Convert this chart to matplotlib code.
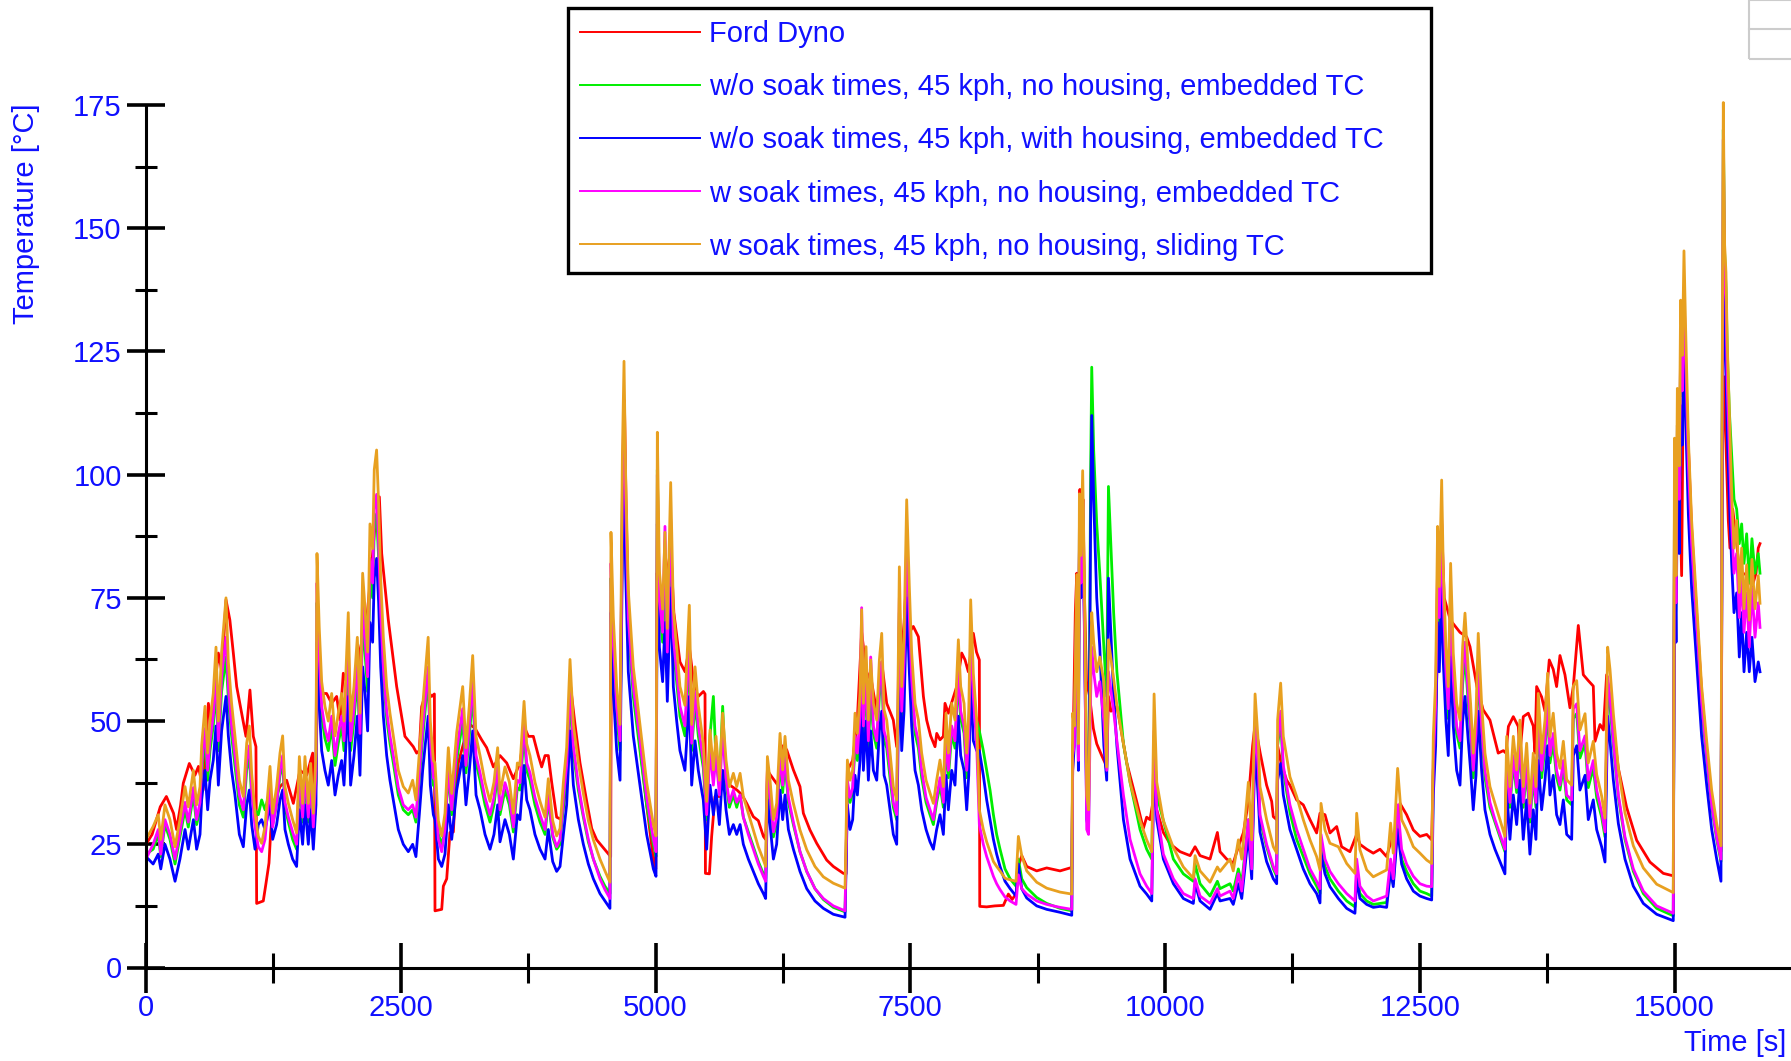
import numpy as np
import matplotlib
matplotlib.use("Agg")
import matplotlib.pyplot as plt
from matplotlib.patches import Rectangle
from matplotlib.lines import Line2D

plt.rcParams['font.family'] = ['Liberation Sans', 'DejaVu Sans']

# --------------------------------------------------
# Data (time in s, temperature in degC)
# --------------------------------------------------
# shared time base of the four simulation runs
time_sim = [
    0, 70, 120, 145, 186, 235, 285, 333, 383, 415,
    465, 497, 530, 546, 579, 605, 628, 660, 687, 710,
    742, 785, 808, 840, 873, 916, 955, 988, 1014, 1037,
    1070, 1102, 1135, 1168, 1217, 1243, 1282, 1315, 1341, 1364,
    1397, 1439, 1478, 1505, 1537, 1560, 1593, 1616, 1642, 1668,
    1678, 1700, 1724, 1756, 1789, 1822, 1855, 1887, 1920, 1943,
    1985, 2008, 2041, 2074, 2100, 2126, 2149, 2175, 2198, 2224,
    2240, 2263, 2283, 2303, 2329, 2362, 2394, 2427, 2476, 2525,
    2574, 2617, 2649, 2682, 2715, 2769, 2790, 2820, 2836, 2869,
    2902, 2934, 2967, 3000, 3049, 3108, 3140, 3173, 3206, 3239,
    3278, 3327, 3376, 3415, 3451, 3474, 3523, 3566, 3605, 3644,
    3670, 3710, 3736, 3768, 3817, 3867, 3916, 3948, 3991, 4030,
    4063, 4096, 4128, 4161, 4194, 4243, 4292, 4341, 4390, 4455,
    4504, 4553,
    4563, 4586, 4619, 4652, 4675, 4691, 4707, 4733, 4782, 4848,
    4913, 4979, 5005, 5018, 5038, 5070, 5093, 5116, 5149, 5175,
    5208, 5240, 5289, 5332, 5355, 5388, 5420, 5469, 5502, 5535,
    5568, 5594, 5627, 5659, 5692, 5725, 5764, 5797, 5830, 5862,
    5911, 5960, 6009, 6059, 6081, 6098, 6124, 6157, 6189, 6222,
    6248, 6271, 6304, 6353, 6418, 6484, 6565, 6647, 6745, 6860,
    6883, 6909, 6935, 6958, 6981, 7007, 7023, 7040, 7066, 7089,
    7112, 7138, 7171, 7197, 7220, 7243, 7269, 7302, 7334, 7367,
    7393, 7416, 7439, 7465, 7491, 7514, 7547, 7580, 7612, 7655,
    7694, 7727, 7759, 7792, 7825, 7851, 7874, 7907, 7939, 7972,
    7995, 8028, 8054, 8074, 8093, 8119, 8152, 8178, 8217, 8250,
    8283, 8316, 8348, 8381, 8430, 8480, 8538, 8561, 8594, 8643,
    8741, 8839, 8970, 9085,
    9094, 9110, 9134, 9150, 9160, 9175, 9192, 9208, 9232, 9250,
    9270, 9281, 9300, 9330, 9360, 9400, 9428, 9445, 9496, 9528,
    9592, 9657, 9755, 9820, 9870, 9893, 9919, 9984, 10082, 10180,
    10278, 10295, 10344, 10442, 10514, 10540, 10638, 10670, 10720, 10753,
    10818, 10851, 10884, 10916, 10932, 10997, 11063, 11096, 11105, 11135,
    11161, 11226, 11292, 11357, 11423, 11488, 11521, 11531, 11570, 11619,
    11701, 11783, 11864, 11881, 11913, 11979, 12044, 12110, 12175, 12214,
    12240, 12283, 12322, 12371, 12437, 12502, 12568, 12617,
    12633, 12656, 12675, 12692, 12715, 12731, 12757, 12780, 12803, 12829,
    12862, 12895, 12921, 12944, 12976, 12999, 13025, 13052, 13074, 13107,
    13140, 13189, 13238, 13287, 13336, 13353, 13385, 13418, 13451, 13483,
    13516, 13549, 13581, 13614, 13640, 13663, 13696, 13729, 13755, 13778,
    13810, 13843,
    13876, 13909, 13942, 13991, 14007, 14040, 14072, 14122, 14154, 14203,
    14236, 14285, 14318, 14344, 14367, 14400, 14449, 14514, 14596, 14694,
    14825, 14988, 15000, 15015, 15028, 15047, 15060, 15077, 15093, 15109,
    15136, 15168, 15217, 15266, 15316, 15365, 15414, 15456, 15469, 15479,
    15492, 15505, 15518, 15538, 15561, 15584, 15610, 15636, 15659, 15682,
    15708, 15734, 15760, 15790, 15822, 15839,
]

# w soak times, 45 kph, no housing, sliding TC
temp_sliding = [
    26, 28.6, 31, 26, 33, 30, 24.5, 30, 36.7, 32.6,
    40, 33, 36.7, 45, 53, 43.5, 50, 55.6, 65, 50,
    64, 75, 62, 53.6, 47, 38, 34.7, 45.5, 49, 39.4,
    31.3, 26.6, 25.2, 28.6, 40.8, 31.3, 36.7, 43.5, 47, 36.7,
    33.3, 30, 27.3, 42.8, 33.3, 42.8, 33.3, 41.4, 31.3, 43.5,
    84, 69, 58, 53, 50, 55.6, 47, 51.6, 55.6, 50,
    72, 50, 57, 67, 51.6, 80, 73, 64, 90, 85,
    101, 105, 94, 79, 67, 57, 51.6, 47, 40, 36.7,
    35.4, 38, 34, 43.5, 53, 67, 50, 42, 41.5, 29.8,
    26.7, 31.3, 44.6, 35.3, 47.7, 57, 44.6, 53.2, 63.3, 46.9,
    43, 37.6, 33.7, 37.6, 44.6, 35.3, 40.7, 37.6, 31.3, 41.5,
    41, 54, 45.4, 43, 37.6, 33.7, 30.5, 38.3, 29.8, 26.7,
    28.2, 37.6, 44.6, 62.5, 49.3, 41.5, 35.3, 29.8, 25.9, 22,
    19.6, 17.3,
    88.3, 71.1, 57, 49.3, 103.9, 123, 100, 76.6, 61, 49.3,
    37.6, 29, 26.7, 108.6, 80.5, 72.7, 88.3, 68.8, 98.4, 72.7,
    64.9, 57, 53.2, 73.5, 49.3, 61, 53.2, 45.4, 33.7, 48.2,
    40.1, 46.9, 38, 51.6, 42.1, 36.7, 39.4, 36.7, 39.4, 34.7,
    31.3, 27.9, 24.5, 21.8, 20.5, 42.8, 38, 30, 33.3, 47.5,
    40.1, 46.9, 38, 33.3, 27.9, 23.9, 20.5, 18.4, 17.1, 16.1,
    42.1, 38, 40.1, 51.6, 47.5, 55.6, 72.6, 53.6, 65.1, 50.2,
    62.4, 53.6, 50.2, 62.4, 67.8, 52.3, 50.2, 43.5, 36.7, 34,
    81.3, 57, 67.1, 94.9, 77.3, 63.8, 53.6, 50.2, 43.5, 38,
    35.4, 33.3, 38, 42.1, 36.7, 51.6, 43.5, 53.6, 50.2, 66.5,
    57, 53.6, 43.5, 51.6, 74.6, 59.7, 50.2, 32, 28, 25.5,
    23.5, 21.5, 20.5, 19.6, 18.1, 17.8, 17.5, 26.6, 22.7, 19.6,
    17.3, 16.1, 15.3, 14.9,
    51.6, 49, 79.7, 45.4, 96.1, 83.6, 100.8, 80.5, 35, 32,
    62, 72, 66, 60, 63, 58, 40.7, 66.5, 58.6, 53.2,
    45.4, 37.6, 29.8, 25.9, 23.5, 55.5, 37.6, 29.8, 24.3, 20.4,
    18.1, 22.7, 19.6, 17.3, 20.4, 19.5, 22, 19.6, 25.9, 22,
    37.6, 25.9, 55.5, 45.4, 36.7, 30, 24.5, 23.2, 50.2, 57.7,
    46.9, 38.7, 34.7, 30, 25.9, 22.5, 19.8, 33.3, 27.9, 25.2,
    24.5, 21.1, 19.1, 31.3, 23.9, 19.8, 18.4, 19.1, 19.8, 29.3,
    23.2, 40.4, 30, 27.9, 24.5, 23.2, 21.8, 21.1,
    46.9, 58.3, 89.5, 77.3, 98.9, 80.7, 65.1, 57, 82, 63.8,
    53.6, 50.2, 65.1, 71.9, 60.4, 53.6, 43.5, 51.6, 67.8, 53.6,
    43.5, 36.7, 33.3, 30, 26.6, 46.9, 36.7, 46.9, 40.1, 50.2,
    36.7, 45.5, 33.3, 43.5, 36.7, 55.6, 43.5, 50.2, 59.7, 46.9,
    51.6, 43.5,
    40.4, 45.9, 38.1, 37, 57.1, 58.2, 48.2, 51.5, 41.5, 45.9,
    39.2, 34.8, 30.3, 65, 60.5, 51.5, 40.4, 31.4, 24.7, 20.2,
    16.9, 15.2, 107.4, 79.5, 117.5, 101.8, 135.4, 124.2, 145.4, 129.8,
    107.4, 90.7, 73.9, 57.1, 45.9, 35.9, 29.2, 24.7, 124.2, 175.5,
    146.6, 141, 126.4, 113, 96.2, 85.1, 90.7, 76.1, 85.1, 72.8,
    81.7, 70.5, 82.8, 72.8, 79.5, 73.9,
]

# w soak times, 45 kph, no housing, embedded TC
temp_soak_embedded = [
    22, 25, 28, 23, 30, 27, 22, 27.5, 33.5, 29.5,
    36.5, 30, 33.5, 41, 48.5, 40, 46, 51, 60, 46,
    59, 67, 57, 49, 43, 35, 32, 42, 45, 36,
    28.5, 24.5, 23.5, 26, 37, 28.5, 33.5, 40, 43, 33.5,
    30.5, 27.5, 25, 39, 30.5, 39, 30.5, 38, 28.5, 40,
    78, 63, 53, 48.5, 46, 51, 43, 47.5, 51, 46,
    66, 46, 52.5, 61.5, 47.5, 74, 67, 59, 83, 78,
    93, 96, 86, 72, 61, 52, 47, 43, 36.5, 33,
    32, 33, 30.5, 39.5, 48.5, 61, 46, 38.5, 38, 26,
    23.5, 28, 41, 32, 44, 52.5, 41, 49, 58, 43,
    39.5, 34.5, 31, 34.5, 41, 32, 37.5, 34.5, 28.5, 38,
    37.5, 49.5, 41.5, 39.5, 34.5, 31, 28, 35, 27, 24.5,
    26, 34.5, 41, 57.5, 45, 37, 31, 26, 22, 18,
    15.8, 14,
    82, 66, 53, 46, 97, 115, 94, 71, 57, 46,
    34.5, 26, 23.5, 100, 75, 68, 89.5, 64, 91, 67,
    60, 53, 49, 66, 45.5, 56, 49, 42, 31, 44,
    37, 43, 35, 47.5, 38.5, 33.5, 36, 33.5, 35, 30.5,
    27, 24, 21, 18.5, 17.5, 40, 35, 27.5, 30.5, 43.5,
    37, 43, 34.5, 29.5, 23.5, 19.5, 16, 14, 12.5, 11.5,
    38, 34.5, 36.5, 47, 43.5, 51, 73, 49, 60, 46,
    63, 49, 46, 57, 62, 48, 46, 40, 33.5, 31,
    75, 52, 62, 87, 71, 58.5, 49, 46, 40, 34.5,
    32, 30, 34.5, 38.5, 33.5, 47, 40, 49, 46, 61,
    52, 49, 40, 47, 68, 55, 45, 29, 25, 22.5,
    20.5, 18.5, 17, 15.8, 14.3, 13.5, 12.8, 18.8, 16, 14.9,
    13.5, 12.8, 12.2, 11.8,
    43, 45, 75, 42, 90, 78, 95, 72, 28, 27,
    55, 65, 60, 55, 58, 50, 40, 60, 52, 46,
    35, 26, 19, 16.5, 15, 48, 32, 23, 18, 15,
    14, 18, 14.5, 13, 16, 14.5, 15.5, 14, 19, 15.5,
    30, 20, 50, 40, 31, 25, 20.5, 19, 46, 52,
    41, 33, 28, 24, 20, 17.5, 16, 27, 22, 19.5,
    17, 15, 13.5, 22, 16.5, 14.5, 13.5, 14, 14.5, 22,
    18, 33, 24, 21, 18.5, 17, 16.5, 16.4,
    42, 53, 82, 71, 91, 74, 60, 52.5, 75, 58.5,
    49, 46, 60, 66, 55.5, 49, 40, 47.5, 62, 49,
    40, 33.5, 30, 27, 24, 43, 33.5, 43, 36.5, 46,
    33.5, 41.5, 30.5, 40, 33.5, 51, 40, 46, 55, 43,
    47.5, 40,
    37, 42, 35, 34, 52.5, 53.5, 44, 47, 38, 42,
    36, 31.5, 27.5, 59, 55, 46, 35, 26.5, 20, 15.5,
    12.5, 11, 98, 74, 110, 95, 127, 117, 138, 124,
    102, 86, 70, 54, 43, 33, 26.5, 22, 118, 168,
    140, 135, 118, 105, 90, 80, 84, 71, 79, 68,
    76, 65, 77, 67, 74, 69,
]

# w/o soak times, 45 kph, no housing, embedded TC
temp_nosoak_nohousing = [
    23, 24, 27, 22.5, 29, 26, 21, 26.5, 32, 28.5,
    35, 29, 32, 39.5, 46.5, 38, 44, 49, 57, 44,
    56, 63, 54.5, 47, 41, 33, 30.5, 40, 43, 34.5,
    32, 31, 34, 32, 36, 29, 33, 39, 41.5, 32.5,
    29.5, 26, 24, 37.5, 29.5, 37.5, 29.5, 36.5, 27.5, 38,
    74, 60, 51, 46.5, 44, 49, 41, 45.5, 49, 44,
    63, 44, 50, 59, 45.5, 70, 64, 56, 79, 75,
    89, 92, 83, 70, 59, 50.5, 45.5, 41.5, 35, 32,
    31, 32, 29.5, 38, 46.5, 59, 44, 37, 36.5, 27,
    25, 28, 39.5, 31, 42, 50, 39.5, 47, 55.5, 41.5,
    38, 33, 29.5, 33, 39.5, 31, 36, 33, 27.5, 36.5,
    36, 47.5, 40, 38, 33, 29.5, 27, 34, 26.5, 24,
    25, 33, 39.5, 55, 43.5, 36, 30.5, 25.5, 22, 18.5,
    16.5, 15,
    79, 64, 51, 44, 95, 113, 92, 69, 55, 44,
    33, 25, 22.5, 101, 74, 66, 80, 62, 88, 65,
    58, 51, 47, 63, 44, 54, 47, 40.5, 30, 47,
    55, 42, 37, 53, 37.5, 32.5, 35, 32.5, 35, 30.5,
    27.5, 24.5, 21.5, 19, 18, 38, 33.5, 26.5, 29.5, 42,
    35.5, 41.5, 33.5, 29, 23.5, 19.5, 16, 13.8, 12.2, 11.3,
    37, 33.5, 35.5, 45.5, 42, 49, 64, 47.5, 57.5, 44.5,
    55, 47.5, 44.5, 55, 60, 46, 44.5, 38.5, 32.5, 30,
    72, 50.5, 59, 84, 68.5, 56.5, 47.5, 44.5, 38.5, 33.5,
    31, 29, 33.5, 37, 32.5, 45.5, 38.5, 47.5, 44.5, 59,
    50.5, 47.5, 38.5, 45.5, 66, 53, 50, 48, 44, 40,
    36, 31, 27, 24, 20, 18, 16.5, 22, 18, 16.2,
    14.2, 13, 12, 11.5,
    45, 47, 75, 43, 90, 80, 95, 75, 33, 30,
    100, 121.8, 105, 90, 80, 65, 55, 97.6, 72, 60,
    45.4, 37.6, 28, 24, 22, 47, 35, 29.8, 22, 19,
    17.5, 21, 17, 14.5, 17.5, 16, 17, 15.5, 20, 17,
    30, 20, 48, 38, 30, 24.5, 20, 18.5, 45, 50,
    40, 31.5, 26, 22.5, 19, 16.5, 15, 25, 20.5, 18,
    15.5, 13.5, 12.3, 19, 15, 13.5, 12.8, 13, 13.2, 20,
    17, 30, 22, 19.5, 17, 15.5, 15, 14.5,
    40, 51, 79, 68, 88, 71, 57.5, 50.5, 72, 56.5,
    47.5, 44.5, 57.5, 63.5, 53.5, 47.5, 38.5, 45.5, 60, 47.5,
    38.5, 32.5, 29.5, 26.5, 23.5, 41.5, 32.5, 41.5, 35.5, 44.5,
    32.5, 40, 29.5, 38.5, 32.5, 49, 38.5, 44.5, 52.5, 41.5,
    45.5, 38.5,
    36, 40.5, 34, 33, 50.5, 51.5, 42.5, 45.5, 36.5, 40.5,
    34.5, 30.5, 26.5, 57, 53, 45, 34.5, 26, 19.5, 15,
    12, 10.5, 98, 74, 110, 94, 126, 116, 136, 122,
    101, 85, 69, 53, 42, 32.5, 26, 21.5, 120, 170,
    145, 138, 125, 113, 104, 95, 93, 86, 90, 82,
    88, 78, 87, 80, 84, 80,
]

# w/o soak times, 45 kph, with housing, embedded TC
temp_nosoak_housing = [
    22.5, 21, 23, 20, 25, 22, 17.5, 22, 28, 24,
    30, 24, 27, 34, 40, 32, 38, 42, 49, 37,
    48, 55, 47, 40, 35, 27, 24.5, 33, 36, 29,
    24, 29, 30, 28, 33, 26, 29, 34, 36, 28,
    25, 22, 20.5, 32, 25, 33, 25, 32, 24, 33,
    66, 53, 44, 40, 37, 42, 35, 39, 42, 37,
    55, 37, 43, 51, 39, 61, 56, 48, 70, 66,
    79, 83, 74, 61, 51, 43, 38, 34, 28, 25,
    23.5, 25, 22.5, 31, 40, 51, 37, 31, 30, 22,
    20.5, 23, 33, 26, 36, 43, 33, 40, 48, 35,
    32, 27, 24, 27, 33, 25.5, 30, 27, 22, 31,
    30, 41, 34, 32, 27, 24, 22, 28, 21.5, 19.5,
    20.5, 27, 33, 48, 37, 30, 25, 21, 18, 15,
    13.5, 12,
    72, 56, 44, 38, 85, 100, 80, 60, 47, 37,
    27, 20, 18.5, 90, 65, 58, 70, 54, 77, 57,
    50, 44, 40, 55, 37, 46, 40, 34, 24, 37,
    31, 36, 29, 40, 32, 27, 29, 27, 29, 25,
    22, 19.5, 17, 15, 14, 34, 29, 22, 25, 36,
    30, 35, 28, 24, 19.5, 16, 13.5, 12, 10.8, 10.2,
    33, 28, 30, 39, 35, 42, 56, 40, 50, 38,
    48, 40, 38, 48, 52, 39, 37, 32, 27, 25,
    64, 44, 52, 75, 60, 49, 40, 37, 32, 28,
    25.5, 24, 28, 31, 27, 39, 32, 40, 37, 51,
    43, 40, 32, 39, 58, 46, 44, 44, 39, 34,
    30, 26, 23, 20.5, 17.5, 16, 14.5, 21, 16, 14.1,
    12.5, 11.8, 11.2, 10.6,
    40, 45, 70, 40, 85, 75, 90, 70, 30, 28,
    90, 112, 95, 75, 65, 45, 38, 79, 55, 45,
    30, 22, 16.5, 14.9, 13.5, 43, 30, 22, 17, 14,
    13, 17, 13.5, 11.8, 15, 13.5, 14, 12.8, 17, 14,
    27, 18, 45, 34, 27.5, 21.5, 18, 17, 38, 41.4,
    35, 28, 24, 20, 17, 15, 13.1, 23.2, 19, 16.4,
    14, 12, 11, 18, 14, 12.8, 12.2, 12.4, 12.2, 19.8,
    16.4, 28, 21, 18, 15.5, 14.5, 14, 13.7,
    35, 45, 70, 60, 78, 62, 50, 43, 63, 49,
    40, 37, 50, 55, 46, 40, 32, 39, 52, 40,
    32, 27, 24, 21.5, 19, 36, 26, 35, 29, 38,
    26, 34, 23, 32, 26, 42, 32, 38, 45, 35,
    39, 31,
    29, 34, 27, 26, 43, 45, 36, 39, 30, 34,
    28, 24.5, 21.4, 51, 46, 38, 29.2, 22, 16.5, 13,
    10.8, 9.5, 88, 66, 98, 84, 114, 106, 125, 112,
    92, 77, 62, 47, 37, 28, 22, 17.5, 110, 140,
    130, 120, 108, 95, 82, 72, 76, 63, 72, 60,
    68, 60, 67, 58, 62, 60,
]

# Ford Dyno measurement
time_dyno = [
    0, 60, 140, 200, 270, 300, 340, 366, 425, 480,
    515, 560, 580, 612, 640, 680, 710, 745, 785, 823,
    857, 890, 939, 981, 1020, 1053, 1079, 1086, 1151, 1177,
    1207, 1223, 1250, 1315, 1380, 1446, 1511, 1577, 1636, 1658,
    1670, 1685, 1713, 1772, 1822, 1871, 1904, 1936, 1985, 2034,
    2100, 2165, 2200, 2240, 2290, 2313, 2378, 2460, 2541, 2623,
    2656, 2682, 2705, 2754, 2803, 2830, 2836, 2902, 2918, 2951,
    2983, 3016, 3032, 3065, 3115, 3180, 3230, 3294, 3343, 3409,
    3474, 3540, 3605, 3670, 3719, 3752, 3801, 3850, 3883, 3916,
    3948, 3981, 4030, 4079, 4128, 4167, 4210, 4259, 4325, 4374,
    4423, 4488, 4553, 4560, 4566, 4586, 4620, 4655, 4680, 4695,
    4710, 4735, 4782, 4848, 4913, 4979, 5003, 5015, 5040, 5070,
    5100, 5150, 5180, 5240, 5290, 5332, 5380, 5420, 5470, 5486,
    5490, 5529, 5551, 5584, 5630, 5680, 5730, 5800, 5850, 5895,
    5960, 6009, 6059, 6081, 6098, 6130, 6200, 6240, 6287, 6353,
    6418, 6451, 6516, 6582, 6680, 6745, 6844, 6870, 6883, 6935,
    6980, 7023, 7070, 7120, 7170, 7220, 7269, 7334, 7367, 7400,
    7440, 7465, 7490, 7530, 7580, 7629, 7661, 7700, 7743, 7760,
    7792, 7825, 7841, 7874, 7956, 8005, 8038, 8070, 8119, 8150,
    8178, 8182, 8250, 8330, 8414, 8463, 8500, 8540, 8561, 8594,
    8643, 8741, 8839, 8970, 9068, 9085, 9094, 9120, 9134, 9150,
    9165, 9180, 9195, 9210, 9230, 9260, 9297, 9330, 9379, 9412,
    9428, 9445, 9470, 9528, 9560, 9625, 9673, 9722, 9787, 9820,
    9853, 9893, 9919, 9984, 10049, 10148, 10246, 10295, 10344, 10442,
    10514, 10540, 10605, 10670, 10720, 10770, 10818, 10860, 10884, 10934,
    10997, 11047, 11063, 11096, 11105, 11140, 11194, 11226, 11292, 11357,
    11423, 11488, 11521, 11570, 11619, 11685, 11733, 11815, 11881, 11913,
    11979, 12044, 12110, 12175, 12224, 12273, 12306, 12371, 12437, 12502,
    12568, 12617, 12633, 12660, 12700, 12715, 12740, 12800, 12895, 12960,
    12993, 13061, 13122, 13189, 13270, 13320, 13346, 13370, 13418, 13467,
    13483, 13516, 13565, 13614, 13631, 13647, 13696, 13729, 13771, 13810,
    13843, 13876, 13925, 13974, 14007, 14056, 14105, 14154, 14203, 14220,
    14269, 14302, 14334, 14383, 14449, 14530, 14629, 14759, 14890, 14988,
    15000, 15015, 15047, 15070, 15093, 15109, 15136, 15168, 15217, 15266,
    15316, 15365, 15414, 15456, 15469, 15479, 15495, 15528, 15544, 15571,
    15610, 15640, 15708, 15760, 15800, 15822, 15839,
]
temp_dyno = [
    25, 27, 32.6, 34.7, 31.3, 28, 33, 37.4, 41.4, 39,
    40.8, 36, 42, 53.6, 50, 58, 63.8, 60, 74.6, 70.5,
    63.8, 57, 51.6, 46.9, 56.3, 46.9, 44.8, 13, 13.5, 17,
    21.2, 27.3, 33.3, 36.7, 38, 33.3, 40, 39, 43.5, 31,
    40, 64, 55.6, 55.6, 53.6, 55, 50.2, 59.7, 57, 51.6,
    64.4, 70.5, 78, 88, 95.5, 84, 70.5, 57, 46.9, 44.8,
    43.5, 44, 52.9, 56.3, 55, 55.5, 11.5, 11.8, 16.5, 18,
    27.4, 27.5, 33.7, 41.5, 45.4, 49.3, 48.5, 46.2, 44.6, 40.7,
    43, 41.5, 38.3, 41.5, 48.5, 46.9, 46.9, 43, 40.7, 43,
    43, 37.6, 30.5, 30, 37.6, 57, 49.3, 41.5, 33.7, 28.2,
    25.9, 24.3, 22.7, 22.5, 60, 64.9, 50, 50, 100, 115,
    95, 72, 58, 45, 33, 22, 20, 80, 78, 70,
    78, 85, 72, 62, 60, 65, 57, 55, 56, 55.5,
    19.1, 19, 26.6, 34.7, 34.7, 40, 37, 36, 35, 33.3,
    30.6, 29.8, 26.6, 26, 40, 39, 37, 45, 44.2, 40.1,
    36.7, 31.3, 27.9, 25.2, 21.8, 20.5, 19.1, 19, 40, 42,
    50, 68, 60, 58, 52, 62, 53.6, 50.2, 44.8, 60,
    70, 80, 68, 69.2, 67.1, 55, 50.2, 47, 44.8, 47.5,
    46.2, 46.9, 53.6, 51.6, 57, 63.8, 62.4, 60, 67.8, 64,
    62.4, 12.4, 12.3, 12.5, 12.6, 14.9, 13.8, 15, 20.5, 22.7,
    20.5, 19.6, 20.2, 19.6, 20.2, 20, 40, 72, 80, 60,
    97, 85, 95, 75, 58, 55, 48.5, 45.4, 43, 41.5,
    40, 55, 52, 53, 49.3, 41.5, 37.6, 33.7, 28.2, 30.5,
    30, 35, 32, 27.4, 25.1, 23.5, 22.7, 24.5, 22.7, 22,
    27.4, 23.5, 22, 21.2, 24.5, 27.4, 33.7, 45, 49.3, 43.5,
    37, 33.7, 30.6, 30, 45, 41.4, 38, 37, 34, 33,
    30, 27.3, 31.3, 31, 27.3, 28.6, 24.5, 23.5, 27, 25,
    24, 23.2, 24, 22.5, 26, 28, 33.3, 31, 27.9, 26.6,
    27, 25.9, 40, 55, 80, 90, 75, 70.5, 68, 67.1,
    65.1, 57, 52.3, 50.2, 43.5, 44, 43.5, 48.9, 50.9, 48.9,
    43.5, 50.9, 51.6, 49, 43.5, 57, 54.9, 52, 62.4, 60.5,
    57, 63.3, 59.4, 52.7, 57, 69.4, 59.4, 58.2, 57.1, 45.9,
    49.3, 48.2, 59.4, 51.5, 40.4, 32.5, 25.8, 21.4, 19.1, 18.6,
    80, 90.7, 101.8, 79.5, 135.4, 120, 106, 89, 72, 56,
    44, 34, 28, 23.6, 100, 120, 113, 90.7, 85.1, 93,
    86.2, 79.5, 80, 77.2, 80, 85.1, 86,
]

labels = [
    "Ford Dyno",
    "w/o soak times, 45 kph, no housing, embedded TC",
    "w/o soak times, 45 kph, with housing, embedded TC",
    "w soak times, 45 kph, no housing, embedded TC",
    "w soak times, 45 kph, no housing, sliding TC",
]
colors = ["#ff0000", "#00ee00", "#0000ff", "#ff00ff", "#e8a020"]
text_blue = "#1010ff"

# --------------------------------------------------
# Figure / axes placement (pixel geometry of the reference)
# --------------------------------------------------
W, H = 1791, 1061
fig = plt.figure(figsize=(W / 100, H / 100), dpi=100)
x0_px, y0_px, y175_px = 146, 967.5, 105
ax = fig.add_axes([x0_px / W, 1 - y0_px / H,
                   1 - x0_px / W, (y0_px - y175_px) / H * 178 / 175])
ax.set_xlim(0, (W - x0_px) / (1528.5 / 15000))
ax.set_ylim(0, 178)

series = [
    (time_dyno, temp_dyno),
    (time_sim, temp_nosoak_nohousing),
    (time_sim, temp_nosoak_housing),
    (time_sim, temp_soak_embedded),
    (time_sim, temp_sliding),
]
for (t, y), c, lab in zip(series, colors, labels):
    ax.plot(t, y, color=c, lw=2.0, label=lab)

# axes styling
for side in ["top", "right"]:
    ax.spines[side].set_visible(False)
ax.spines["left"].set_bounds(0, 175)
ax.spines["left"].set_linewidth(2.2)
ax.spines["bottom"].set_linewidth(2.2)

ax.set_xticks(np.arange(0, 15001, 2500))
ax.set_xticks(np.arange(1250, 16000, 2500), minor=True)
ax.set_yticks(np.arange(0, 176, 25))
ax.set_yticks(np.arange(12.5, 175, 25), minor=True)
ax.tick_params(axis="x", which="major", direction="inout", length=36, width=2.6,
               labelsize=21, labelcolor=text_blue, pad=1)
ax.tick_params(axis="x", which="minor", direction="inout", length=21, width=2.2)
ax.tick_params(axis="y", which="major", direction="inout", length=27, width=2.6,
               labelsize=21, labelcolor=text_blue, pad=4)
ax.tick_params(axis="y", which="minor", direction="inout", length=16, width=2.2)

fig.text(26 / W, 1 - 103 / H, "Temperature [°C]", rotation=90, ha="center",
         va="top", fontsize=21, color=text_blue)
fig.text(1786 / W, 1 - 1043 / H, "Time [s]", ha="right", va="center",
         fontsize=21, color=text_blue)

leg = ax.legend(loc="upper left",
                bbox_to_anchor=(568 / W, 1 - 272 / H, (1431 - 568) / W, (272 - 8) / H),
                bbox_transform=fig.transFigure, mode="expand", borderaxespad=0,
                fontsize=21, labelcolor=text_blue, handlelength=4.1,
                handletextpad=0.3, labelspacing=0.86, borderpad=0.42,
                fancybox=False, edgecolor="black", framealpha=1)
leg.get_frame().set_linewidth(2.4)
for h in leg.get_lines():
    h.set_linewidth(1.4)

# small grey box clipped at the top right corner
fig.add_artist(Rectangle((1749 / W, 1 - 59 / H), 60 / W, 59 / H,
                         transform=fig.transFigure, fill=False,
                         edgecolor="#cccccc", lw=1.5))
fig.add_artist(Line2D([1749 / W, 1], [1 - 29 / H, 1 - 29 / H],
                      transform=fig.transFigure, color="#cccccc", lw=1.5))

fig.savefig("out.png", dpi=100)
